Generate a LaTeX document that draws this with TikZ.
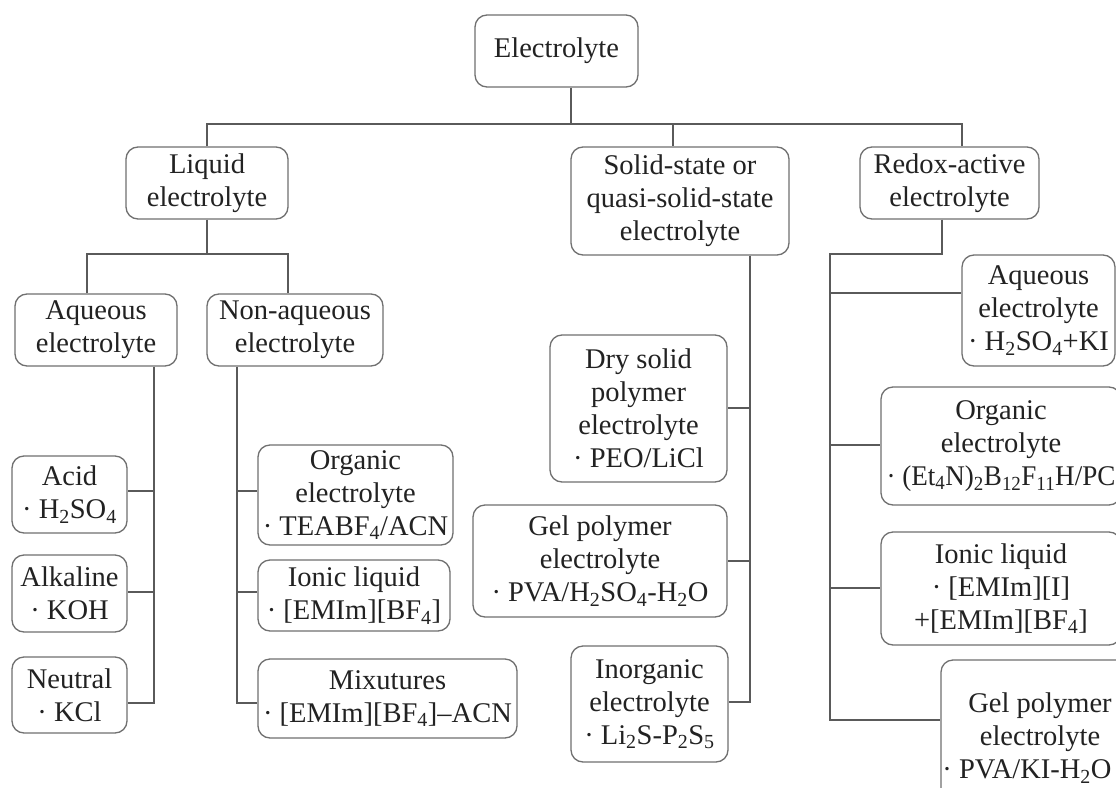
\documentclass[tikz,border=0pt]{standalone}
\usepackage{fontspec}
\usepackage{graphicx}
\setmainfont{Liberation Serif}
\definecolor{boxc}{HTML}{707070}
\definecolor{linec}{HTML}{5A5A5A}
\definecolor{txt}{HTML}{222222}
\newcommand\mybox[6]{\node[box,minimum width=#4pt,minimum height=#5pt] (#1) at (#2,#3) {#6};}
\begin{document}
\begin{tikzpicture}[x=1pt,y=-1pt,
  box/.style={draw=boxc, line width=1.3pt, rounded corners=12pt, fill=white, align=center,
    inner sep=0pt, text=txt, font=\fontsize{28.5}{33}\selectfont},
  conn/.style={draw=linec, line width=1.6pt}]
\useasboundingbox (0,0) rectangle (1116,787);
\clip (0,0) rectangle (1116,787);
\fill[white] (0,0) rectangle (1116,787);

% nodes
\mybox{root}{556.5}{51}{163}{72}{Electrolyte}
\mybox{liquid}{207}{183}{162}{72}{Liquid\\electrolyte}
\mybox{solid}{680}{201}{218}{108}{Solid-state or\\quasi-solid-state\\electrolyte}
\mybox{redox}{949.5}{183}{179}{72}{Redox-active\\electrolyte}
\mybox{aq}{96}{330}{162}{72}{Aqueous\\electrolyte}
\mybox{nonaq}{295}{330}{176}{72}{Non-aqueous\\electrolyte}
\mybox{acid}{69.5}{494.5}{115}{77}{Acid\\· H\textsubscript{2}SO\textsubscript{4}}
\mybox{alk}{69.5}{593.5}{115}{77}{Alkaline\\· KOH}
\mybox{neut}{69.5}{695}{115}{76}{Neutral\\· KCl}
\mybox{org}{355.5}{495}{195}{100}{Organic\\electrolyte\\· TEABF\textsubscript{4}/ACN}
\mybox{ionic}{354}{595.5}{192}{71}{Ionic liquid\\· [EMIm][BF\textsubscript{4}]}
\mybox{mix}{387.5}{698.5}{259}{79}{Mixutures\\· [EMIm][BF\textsubscript{4}]--ACN}
\mybox{dry}{638.5}{408.5}{177}{147}{Dry solid\\polymer\\electrolyte\\· PEO/LiCl}
\mybox{gels}{600}{561}{254}{112}{Gel polymer\\electrolyte\\· PVA/H\textsubscript{2}SO\textsubscript{4}-H\textsubscript{2}O}
\mybox{inorg}{649.5}{704}{157}{116}{Inorganic\\electrolyte\\· Li\textsubscript{2}S-P\textsubscript{2}S\textsubscript{5}}
\mybox{raq}{1038.5}{310.5}{153}{111}{Aqueous\\electrolyte\\· H\textsubscript{2}SO\textsubscript{4}+KI}
\mybox{rorg}{1001}{446}{240}{118}{Organic\\electrolyte\\\scalebox{0.95}[1]{· (Et\textsubscript{4}N)\textsubscript{2}B\textsubscript{12}F\textsubscript{11}H/PC}}
\mybox{rion}{1001}{588.5}{240}{113}{Ionic liquid\\· [EMIm][I]\\+[EMIm][BF\textsubscript{4}]}
\mybox{rgel}{1040}{738}{198}{156}{Gel polymer\\electrolyte\\\hspace*{-26pt}· PVA/KI-H\textsubscript{2}O}

% top level
\coordinate (j0) at (571,124);
\coordinate (jL) at (207,124);
\coordinate (jS) at (673,124);
\coordinate (jR) at (962,124);
\draw[conn] (root.south -| j0) -- (j0);
\draw[conn] (liquid.north) -- (jL) -- (jR) -- (jR |- redox.north);
\draw[conn] (jS) -- (jS |- solid.north);

% liquid
\coordinate (l1) at (207,254);
\coordinate (la) at (87,254);
\coordinate (ln) at (288,254);
\draw[conn] (liquid.south) -- (l1);
\draw[conn] (la |- aq.north) -- (la) -- (ln) -- (ln |- nonaq.north);

% aqueous
\coordinate (av) at (154,703);
\coordinate (a1) at (154,491);
\coordinate (a2) at (154,592);
\draw[conn] (aq.south -| av) -- (av) -- (av -| neut.east);
\draw[conn] (a1) -- (a1 -| acid.east);
\draw[conn] (a2) -- (a2 -| alk.east);

% non-aqueous
\coordinate (nv) at (237,703);
\coordinate (n1) at (237,491);
\coordinate (n2) at (237,592);
\draw[conn] (nonaq.south -| nv) -- (nv) -- (nv -| mix.west);
\draw[conn] (n1) -- (n1 -| org.west);
\draw[conn] (n2) -- (n2 -| ionic.west);

% solid
\coordinate (sv) at (750,702);
\coordinate (s1) at (750,408);
\coordinate (s2) at (750,561);
\draw[conn] (solid.south -| sv) -- (sv) -- (sv -| inorg.east);
\draw[conn] (s1) -- (s1 -| dry.east);
\draw[conn] (s2) -- (s2 -| gels.east);

% redox
\coordinate (r1) at (942,254);
\coordinate (r2) at (830,254);
\coordinate (rv) at (830,720);
\coordinate (q1) at (830,293);
\coordinate (q2) at (830,445);
\coordinate (q3) at (830,588);
\draw[conn] (redox.south -| r1) -- (r1) -- (r2) -- (rv) -- (rv -| rgel.west);
\draw[conn] (q1) -- (q1 -| raq.west);
\draw[conn] (q2) -- (q2 -| rorg.west);
\draw[conn] (q3) -- (q3 -| rion.west);
\end{tikzpicture}
\end{document}
